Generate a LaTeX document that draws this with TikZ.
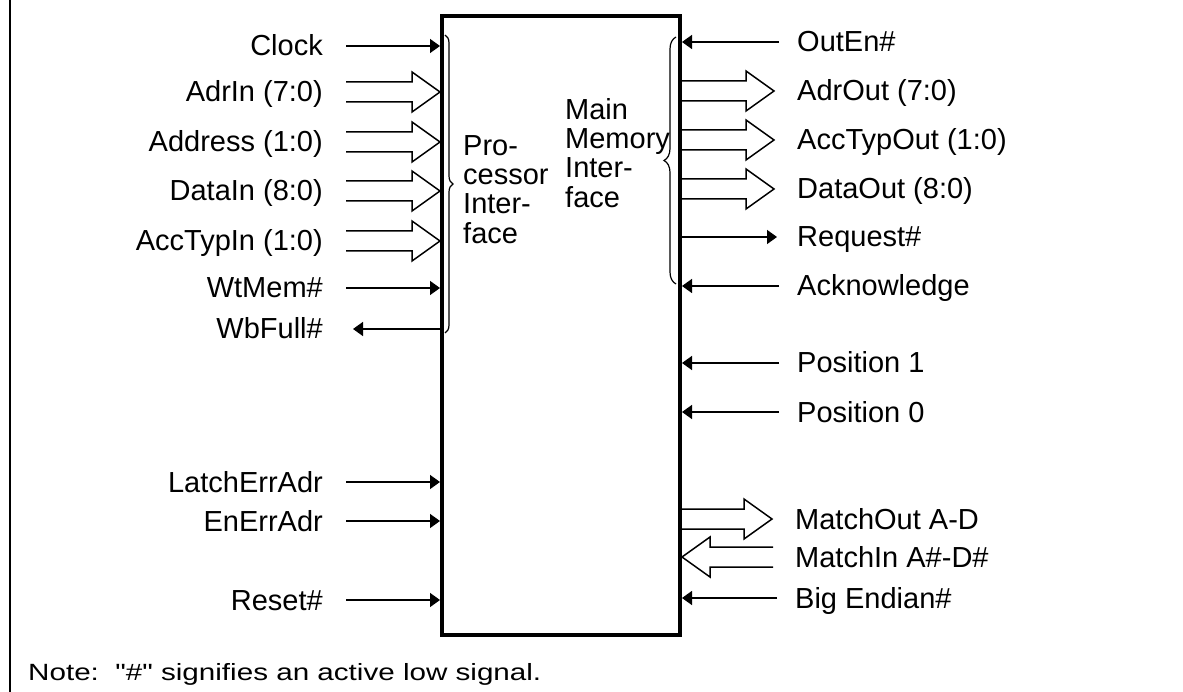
\documentclass[tikz,border=0pt]{standalone}
\usepackage{fontspec}
\setmainfont{Liberation Sans}
\newfontfamily\notefont{Liberation Sans}[FakeStretch=1.26]
\usetikzlibrary{arrows.meta,calc,decorations.pathreplacing}

% hollow bus arrow from tail #1 to tip #2
\newcommand\busarrow[2]{%
  \coordinate (hb) at ($(#2)!28pt!(#1)$);
  \draw[bus] ($(#1)!10pt!90:(#2)$) -- ($(hb)!10pt!-90:(#1)$) -- ($(hb)!20pt!-90:(#1)$)
    -- (#2) -- ($(hb)!20pt!90:(#1)$) -- ($(hb)!10pt!90:(#1)$) -- ($(#1)!10pt!-90:(#2)$);}

\begin{document}
\begin{tikzpicture}[x=1pt,y=-1pt,
    sig/.style={inner sep=0pt, font=\fontsize{29}{29.3}\selectfont, text height=20pt, text depth=0pt},
    insig/.style={sig, anchor=east},
    outsig/.style={sig, anchor=west},
    wire/.style={line width=1.5pt, -{Triangle[length=10pt,width=14pt]}},
    bus/.style={line width=1.5pt, line join=miter},
    chip/.style={draw, line width=4pt, minimum width=238pt, minimum height=619pt, inner sep=0pt},
    part/.style={inner sep=0pt, align=left, anchor=north west, font=\fontsize{29}{29.3}\selectfont},
    grp/.style={line width=1.2pt, decorate, decoration={brace, amplitude=#1}}
    ]
    \useasboundingbox (0,0) rectangle (1183,692);
    \draw[line width=1.5pt] (10,0) -- (10,692);

    \node[chip] (chip) at (561,325.5) {};

    % processor side
    \node[insig] (clk)      at (323,46)  {Clock};
    \node[insig] (adrin)    at (323,92)  {AdrIn (7:0)};
    \node[insig] (address)  at (323,142) {Address (1:0)};
    \node[insig] (datain)   at (323,191) {DataIn (8:0)};
    \node[insig] (acctypin) at (323,241) {AccTypIn (1:0)};
    \node[insig] (wtmem)    at (323,288) {WtMem\#};
    \node[insig] (wbfull)   at (323,329) {WbFull\#};
    \node[insig] (latch)    at (323,482) {LatchErrAdr};
    \node[insig] (enerr)    at (323,521) {EnErrAdr};
    \node[insig] (reset)    at (323,600) {Reset\#};

    % memory side
    \node[outsig] (outen)     at (797,42)  {OutEn\#};
    \node[outsig] (adrout)    at (797,91)  {AdrOut (7:0)};
    \node[outsig] (acctypout) at (797,140) {AccTypOut (1:0)};
    \node[outsig] (dataout)   at (797,189) {DataOut (8:0)};
    \node[outsig] (request)   at (797,237) {Request\#};
    \node[outsig] (ack)       at (797,286) {Acknowledge};
    \node[outsig] (pos1)      at (797,363) {Position 1};
    \node[outsig] (pos0)      at (797,412) {Position 0};
    \node[outsig] (matchout)  at (795,519) {MatchOut A-D};
    \node[outsig] (matchin)   at (795,557) {MatchIn A\#-D\#};
    \node[outsig] (bigend)    at (795,598) {Big Endian\#};

    \node[part] (proc) at (463,135) {Pro-\\cessor\\Inter-\\face};
    \node[part] (mem)  at (565,98)  {Main\\Memory\\Inter-\\face};

    \draw[grp=8pt]  (445,35) -- (445,333);
    \draw[grp=12pt] (676,284) -- (676,37);

    % wires
    \foreach \n in {clk,wtmem,latch,enerr,reset}
      \draw[wire] ([xshift=23pt]\n.east) -- (\n -| chip.west);
    \draw[wire] (wbfull -| chip.west) -- ([xshift=30pt]wbfull.east);
    \foreach \n in {outen,ack,pos1,pos0,bigend}
      \draw[wire] ([xshift=-18pt]\n.west) -- (\n -| chip.east);
    \draw[wire] (request -| chip.east) -- ([xshift=-20pt]request.west);

    % buses
    \foreach \n in {adrin,address,datain,acctypin}{
      \coordinate (\n-t) at ([xshift=23pt]\n.east);
      \coordinate (\n-h) at (\n -| chip.west);
      \busarrow{\n-t}{\n-h}}
    \foreach \n in {adrout,acctypout,dataout,matchout}{
      \coordinate (\n-t) at (\n -| chip.east);
      \coordinate (\n-h) at ([xshift=-23pt]\n.west);
      \busarrow{\n-t}{\n-h}}
    \coordinate (matchin-t) at ([xshift=-22pt]matchin.west);
    \coordinate (matchin-h) at (matchin -| chip.east);
    \busarrow{matchin-t}{matchin-h}

    \node[inner sep=0pt, anchor=base west, font=\notefont\fontsize{23.5}{26}\selectfont] (note) at (28,680)
      {Note:\ \ "\#" signifies an active low signal.};
\end{tikzpicture}
\end{document}
